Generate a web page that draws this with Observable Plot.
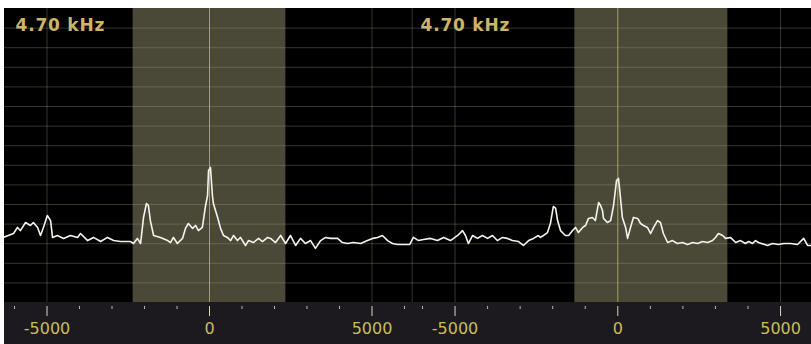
<!DOCTYPE html>
<html>
<head>
<meta charset="utf-8">
<script src="https://cdn.jsdelivr.net/npm/d3@7"></script>
<script src="https://cdn.jsdelivr.net/npm/@observablehq/plot@0.6"></script>
<style>
  html, body { margin: 0; padding: 0; background: #ffffff; }
  #wrap { position: relative; width: 811px; height: 344px; overflow: hidden; background: #ffffff; }
  #wrap svg { position: absolute; top: 8px; display: block; }
  g[aria-label="text"] text { letter-spacing: 0.8px; }
</style>
</head>
<body>
<div id="wrap"></div>
<script>
// ---- data ----
const bandwidthLabel = "4.70 kHz";
const majorTicks = [-5000, 0, 5000];
const minorTicks = [-6000, -4000, -3000, -2000, -1000, 1000, 2000, 3000, 4000, 6000];
const levelGrid = [-140, -130, -120, -110, -100, -90, -80, -70, -60, -50, -40, -30, -20, -10];
const levelDomain = [-150, 0];

const leftDomain = [-6308, 6154];
const leftBand = [-2350, 2350];
const leftFreq = [-6340,-6030,-5910,-5820,-5660,-5510,-5420,-5290,-5200,-5110,-4990,-4890,-4830,-4680,-4490,-4280,-4060,-3970,-3750,-3570,-3350,-3140,-2950,-2740,-2430,-2340,-2220,-2120,-2030,-1940,-1880,-1820,-1720,-1510,-1290,-1200,-1110,-990,-830,-740,-650,-520,-430,-340,-220,-120,-60,-30,30,90,120,250,340,430,550,650,740,860,950,1110,1200,1350,1510,1630,1790,1880,2030,2190,2340,2490,2650,2800,2950,3110,3260,3420,3570,3720,3940,4090,4250,4430,4650,4860,5020,5170,5320,5480,5630,5790,6120];
const leftLevel = [-116.8,-114.8,-111.7,-113.3,-109.2,-110.7,-109.2,-111.7,-115.8,-111.7,-105.6,-108.2,-116.8,-115.8,-117.3,-115.8,-116.8,-114.8,-118.4,-116.8,-118.9,-116.8,-118.4,-118.9,-118.9,-119.9,-117.3,-119.9,-106.6,-99.5,-100.5,-108.2,-115.8,-116.8,-118.4,-119.4,-116.8,-119.9,-117.3,-112.2,-109.7,-112.2,-110.7,-113.3,-111.7,-100.5,-95.4,-82.7,-81.1,-95.4,-99.5,-106.6,-112.2,-115.8,-116.8,-118.4,-115.8,-118.4,-116.8,-120.9,-118.4,-119.4,-117.3,-118.9,-116.8,-117.3,-119.4,-115.8,-119.9,-115.8,-120.9,-117.3,-119.9,-118.4,-122.4,-118.4,-116.8,-117.3,-117.3,-119.4,-119.9,-119.4,-119.9,-118.4,-117.3,-116.8,-115.8,-118.4,-119.9,-120.4,-120.4];

const rightDomain = [-6399, 5950];
const rightBand = [-1320, 3380];
const rightEdge = [-6316];
const rightFreq = [-6390,-6280,-6120,-5970,-5750,-5540,-5350,-5140,-4920,-4770,-4680,-4590,-4460,-4310,-4160,-4000,-3850,-3700,-3540,-3390,-3240,-3050,-2900,-2740,-2590,-2440,-2380,-2280,-2160,-2070,-1980,-1910,-1850,-1760,-1610,-1510,-1390,-1300,-1210,-1080,-990,-900,-780,-690,-590,-530,-470,-440,-320,-220,-130,-40,20,50,140,240,300,390,480,610,700,790,910,1010,1100,1220,1310,1400,1530,1680,1830,1990,2140,2300,2450,2600,2760,2910,3000,3090,3220,3310,3460,3620,3770,3920,4020,4140,4230,4320,4600,4750,4940,5090,5310,5520,5710,5830,5950];
const rightLevel = [-120.4,-116.8,-118.4,-117.9,-117.3,-118.4,-116.8,-118.4,-115.8,-113.3,-115.8,-119.9,-115.8,-117.3,-115.8,-117.3,-115.8,-118.4,-116.8,-117.3,-118.4,-118.9,-120.9,-118.4,-117.3,-115.8,-116.8,-115.8,-114.3,-109.7,-101.0,-102.0,-108.2,-113.3,-115.8,-115.8,-113.3,-111.7,-114.3,-111.7,-110.7,-107.1,-106.6,-108.2,-99.0,-100.5,-103.1,-107.1,-109.2,-108.2,-100.5,-87.8,-86.7,-91.3,-106.6,-111.7,-117.3,-111.7,-106.6,-107.1,-109.7,-110.7,-111.7,-114.8,-111.7,-108.2,-109.2,-114.8,-119.4,-118.4,-119.9,-119.4,-120.4,-119.4,-119.9,-118.9,-119.4,-118.4,-116.8,-114.8,-115.8,-117.3,-116.8,-119.4,-118.4,-119.9,-118.9,-119.9,-118.4,-119.4,-120.9,-119.9,-120.4,-119.9,-119.9,-120.4,-117.3,-120.9,-120.9];

// ---- drawing ----
function panel({width, domain, band, freq, level, edges}) {
  const trace = freq.map((f, i) => ({f, l: level[i]}));
  return Plot.plot({
    width,
    height: 336,
    marginTop: 0,
    marginLeft: 0,
    marginRight: 0,
    marginBottom: 38,
    insetBottom: 4,
    x: {domain, label: null},
    y: {domain: levelDomain, axis: null},
    style: {background: "#1c1a1e", fontFamily: "'DejaVu Sans', sans-serif", fontSize: "16px", overflow: "hidden"},
    marks: [
      Plot.rect([0], {x1: domain[0], x2: domain[1], y1: levelDomain[0], y2: levelDomain[1], fill: "#000000"}),
      Plot.rect([band], {x1: d => d[0], x2: d => d[1], y1: levelDomain[0], y2: levelDomain[1], fill: "#4a4837"}),
      Plot.ruleY(levelGrid, {stroke: "#a4a488", strokeOpacity: 0.33, strokeWidth: 1}),
      Plot.ruleX([-5000, 5000], {y1: levelDomain[0], y2: levelDomain[1], stroke: "#a4a488", strokeOpacity: 0.33}),
      Plot.ruleX(edges, {y1: levelDomain[0], y2: levelDomain[1], stroke: "#a4a488", strokeOpacity: 0.33}),
      Plot.ruleX([0], {y1: levelDomain[0], y2: levelDomain[1], stroke: "#b4b070", strokeOpacity: 0.85}),
      Plot.line(trace, {x: "f", y: "l", stroke: "#f4f4ee", strokeWidth: 1.6, curve: "linear"}),
      Plot.axisX(minorTicks, {tickSize: 3, tickFormat: () => "", stroke: "#b8b8a8", label: null}),
      Plot.axisX(majorTicks, {tickSize: 10, tickPadding: 6, tickFormat: d => String(d), stroke: "#d8d8b8", fill: "#c9bd5c", fontSize: 16, label: null}),
      Plot.text([bandwidthLabel], {text: d => d, frameAnchor: "top-left", dx: 11, dy: 10, lineAnchor: "top", textAnchor: "start", fill: "#cdb567", fontSize: 17, fontWeight: "bold"})
    ]
  });
}

const wrap = document.getElementById("wrap");
const left = panel({width: 405, domain: leftDomain, band: leftBand, freq: leftFreq, level: leftLevel, edges: []});
left.style.left = "4px";
wrap.appendChild(left);
const right = panel({width: 402, domain: rightDomain, band: rightBand, freq: rightFreq, level: rightLevel, edges: rightEdge});
right.style.left = "409px";
wrap.appendChild(right);
</script>
</body>
</html>
